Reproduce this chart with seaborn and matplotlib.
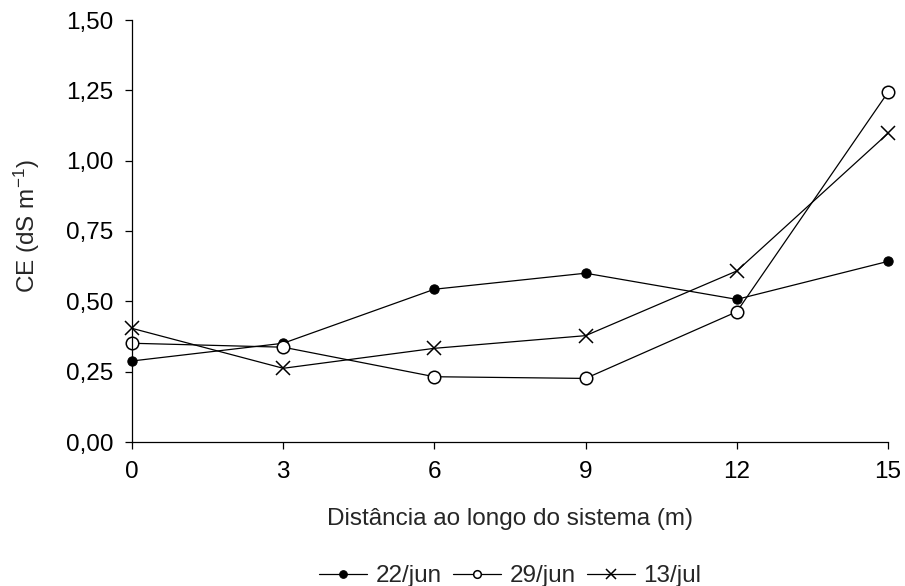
import matplotlib
matplotlib.use("Agg")
import matplotlib.pyplot as plt
from matplotlib.ticker import FuncFormatter
import seaborn as sns
import pandas as pd

# Distance along the system (m)
distancia = [0, 3, 6, 9, 12, 15]

# Electrical conductivity (dS m-1) per sampling date
ce_22jun = [0.288, 0.351, 0.543, 0.600, 0.507, 0.642]
ce_29jun = [0.351, 0.337, 0.232, 0.226, 0.463, 1.243]
ce_13jul = [0.404, 0.262, 0.333, 0.378, 0.608, 1.097]

series_labels = ["22/jun", "29/jun", "13/jul"]
y_ticks = [0.0, 0.25, 0.50, 0.75, 1.00, 1.25, 1.50]

FS = 17.5

sns.set_style("white")
plt.rcParams["font.family"] = ["Liberation Sans", "DejaVu Sans"]
plt.rcParams["mathtext.fontset"] = "custom"
plt.rcParams["mathtext.rm"] = "Liberation Sans"
plt.rcParams["mathtext.it"] = "Liberation Sans"

fig = plt.figure(figsize=(9.05, 5.86), dpi=100)
ax = fig.add_axes([132 / 905, 1 - 442 / 586, (888 - 132) / 905, (442 - 20) / 586])

df = pd.DataFrame({"x": distancia, "a": ce_22jun, "b": ce_29jun, "c": ce_13jul})

styles = [
    dict(marker="o", markersize=6.7, markerfacecolor="black", markeredgecolor="black"),
    dict(marker="o", markersize=9, markerfacecolor="white", markeredgecolor="black",
         markeredgewidth=1.1),
    dict(marker="x", markersize=10, markerfacecolor="black", markeredgecolor="black",
         markeredgewidth=1.1),
]
for col, lab, st in zip(["a", "b", "c"], series_labels, styles):
    sns.lineplot(data=df, x="x", y=col, ax=ax, color="black", linewidth=0.9,
                 label=lab, clip_on=False, **st)

ax.set_xlim(0, 15)
ax.set_ylim(0, 1.5)
ax.set_xticks(distancia)
ax.set_yticks(y_ticks)
ax.yaxis.set_major_formatter(FuncFormatter(lambda v, p: f"{v:.2f}".replace(".", ",")))

for s in ["top", "right"]:
    ax.spines[s].set_visible(False)
for s in ["left", "bottom"]:
    ax.spines[s].set_color("black")
    ax.spines[s].set_linewidth(0.9)

ax.tick_params(axis="both", which="major", direction="out", length=5, width=0.9,
               color="black", labelsize=FS, labelcolor="black", left=True, bottom=True)
ax.tick_params(axis="y", pad=8.5)
ax.tick_params(axis="x", pad=9)

ax.set_xlabel("Distância ao longo do sistema (m)", fontsize=FS)
ax.set_ylabel("CE (dS m$^{-1}$)", fontsize=FS)
ax.xaxis.label.set_va("center")
ax.yaxis.label.set_va("center")
ax.xaxis.set_label_coords(0.5, (442 - 519) / 422)
ax.yaxis.set_label_coords((27 - 132) / 756, (442 - 226) / 422)

leg = ax.legend(loc="center", bbox_to_anchor=(0.5, (442 - 576) / 422), ncol=3,
                frameon=False, fontsize=FS, handlelength=2.0, handletextpad=0.33,
                columnspacing=0.46, borderpad=0, borderaxespad=0)
for h, ms in zip(leg.legend_handles, [5.5, 5.5, 6.5]):
    h.set_markersize(ms)

fig.savefig("out.png", dpi=100)
